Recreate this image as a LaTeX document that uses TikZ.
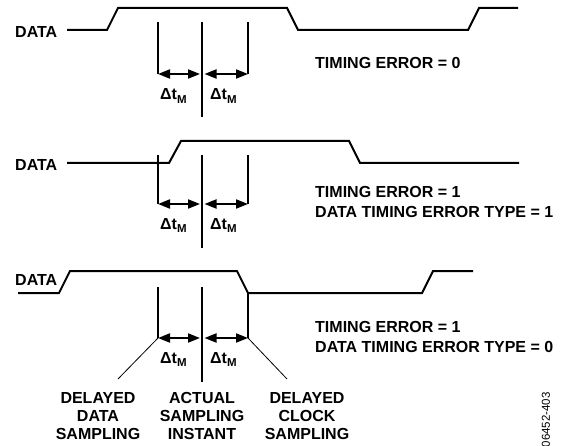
\documentclass[tikz,border=0pt]{standalone}
\usepackage{fontspec}
\setmainfont{Liberation Sans}
\usetikzlibrary{arrows.meta}
\newcommand{\dtm}{Δt\raisebox{-3.5pt}{\fontsize{11.5}{12}\selectfont M}}
\tikzset{
  wave/.style={line width=2pt, line join=miter},
  tickline/.style={line width=1.1pt},
  lead/.style={line width=0.8pt},
  meas/.style={line width=2pt, {Triangle[length=12pt,width=9pt]}-{Triangle[length=12pt,width=9pt]}},
  lbl/.style={font=\fontsize{16}{19.4}\selectfont\bfseries, inner sep=0pt},
  dlbl/.style={font=\fontsize{16}{19}\selectfont\bfseries, inner sep=0pt, anchor=base west},
  blbl/.style={font=\fontsize{16}{18}\selectfont\bfseries, inner sep=0pt, anchor=north, align=center},
}
\begin{document}
\begin{tikzpicture}[x=1pt,y=-1pt]
\path[use as bounding box] (0,0) rectangle (561,446);

% ---------- Row 1 ----------
\node[lbl, anchor=west] (data1) at (15,32) {DATA};
\draw[wave] (67,30) -- (107,30) -- (118,8) -- (287,8) -- (298,30) -- (468,30) -- (479,8) -- (518,8);
\coordinate (a1t) at (158,22); \coordinate (a1b) at (158,74);
\coordinate (b1t) at (202,22); \coordinate (b1b) at (202,117);
\coordinate (c1t) at (248,22); \coordinate (c1b) at (248,74);
\coordinate (m1) at (200,74); \coordinate (n1) at (204.5,74);
\draw[tickline] (a1t) -- (a1b);
\draw[tickline] (b1t) -- (b1b);
\draw[tickline] (c1t) -- (c1b);
\draw[meas] (a1b) -- (m1);
\draw[meas] (n1) -- (c1b);
\node[dlbl] (dt1a) at (160,100) {\dtm};
\node[dlbl] (dt1b) at (210,100) {\dtm};
\node[lbl, anchor=west] (te1) at (315,62.5) {TIMING ERROR = 0};

% ---------- Row 2 ----------
\node[lbl, anchor=west] (data2) at (15,164.5) {DATA};
\draw[wave] (67,163) -- (169,163) -- (181,141) -- (349,141) -- (360,163) -- (519,163);
\coordinate (a2t) at (158,155); \coordinate (a2b) at (158,204);
\coordinate (b2t) at (202,155); \coordinate (b2b) at (202,248);
\coordinate (c2t) at (248,155); \coordinate (c2b) at (248,204);
\coordinate (m2) at (200,204); \coordinate (n2) at (204.5,204);
\draw[tickline] (a2t) -- (a2b);
\draw[tickline] (b2t) -- (b2b);
\draw[tickline] (c2t) -- (c2b);
\draw[meas] (a2b) -- (m2);
\draw[meas] (n2) -- (c2b);
\node[dlbl] (dt2a) at (160,229) {\dtm};
\node[dlbl] (dt2b) at (210,229) {\dtm};
\node[lbl, anchor=north west, align=left] (te2) at (315,186.5) {TIMING ERROR = 1\\DATA TIMING ERROR TYPE = 1};

% ---------- Row 3 ----------
\node[lbl, anchor=west] (data3) at (15,280) {DATA};
\draw[wave] (18,293) -- (59,293) -- (70,271) -- (237,271) -- (248,293) -- (422,293) -- (433,271) -- (473,271);
\coordinate (a3t) at (158,287); \coordinate (a3b) at (158,338);
\coordinate (b3t) at (202,287); \coordinate (b3b) at (202,382);
\coordinate (c3t) at (248,293); \coordinate (c3b) at (248,338);
\coordinate (m3) at (200,338); \coordinate (n3) at (204.5,338);
\draw[tickline] (a3t) -- (a3b);
\draw[tickline] (b3t) -- (b3b);
\draw[tickline] (c3t) -- (c3b);
\draw[meas] (a3b) -- (m3);
\draw[meas] (n3) -- (c3b);
\node[dlbl] (dt3a) at (160,363) {\dtm};
\node[dlbl] (dt3b) at (210,363) {\dtm};
\node[lbl, anchor=north west, align=left] (te3) at (315,321.5) {TIMING ERROR = 1\\DATA TIMING ERROR TYPE = 0};

% ---------- leaders and bottom labels ----------
\coordinate (l1) at (118,379);
\coordinate (l2) at (287,379);
\draw[lead] (a3b) -- (l1);
\draw[lead] (c3b) -- (l2);
\node[blbl] (dds) at (98,392.2) {DELAYED\\DATA\\SAMPLING};
\node[blbl] (asi) at (202,392.2) {ACTUAL\\SAMPLING\\INSTANT};
\node[blbl] (dcs) at (307,392.2) {DELAYED\\CLOCK\\SAMPLING};

\node[font=\fontsize{11.5}{13}\selectfont, rotate=90, anchor=east, inner sep=0pt] (fig) at (546,392) {06452-403};
\end{tikzpicture}
\end{document}
